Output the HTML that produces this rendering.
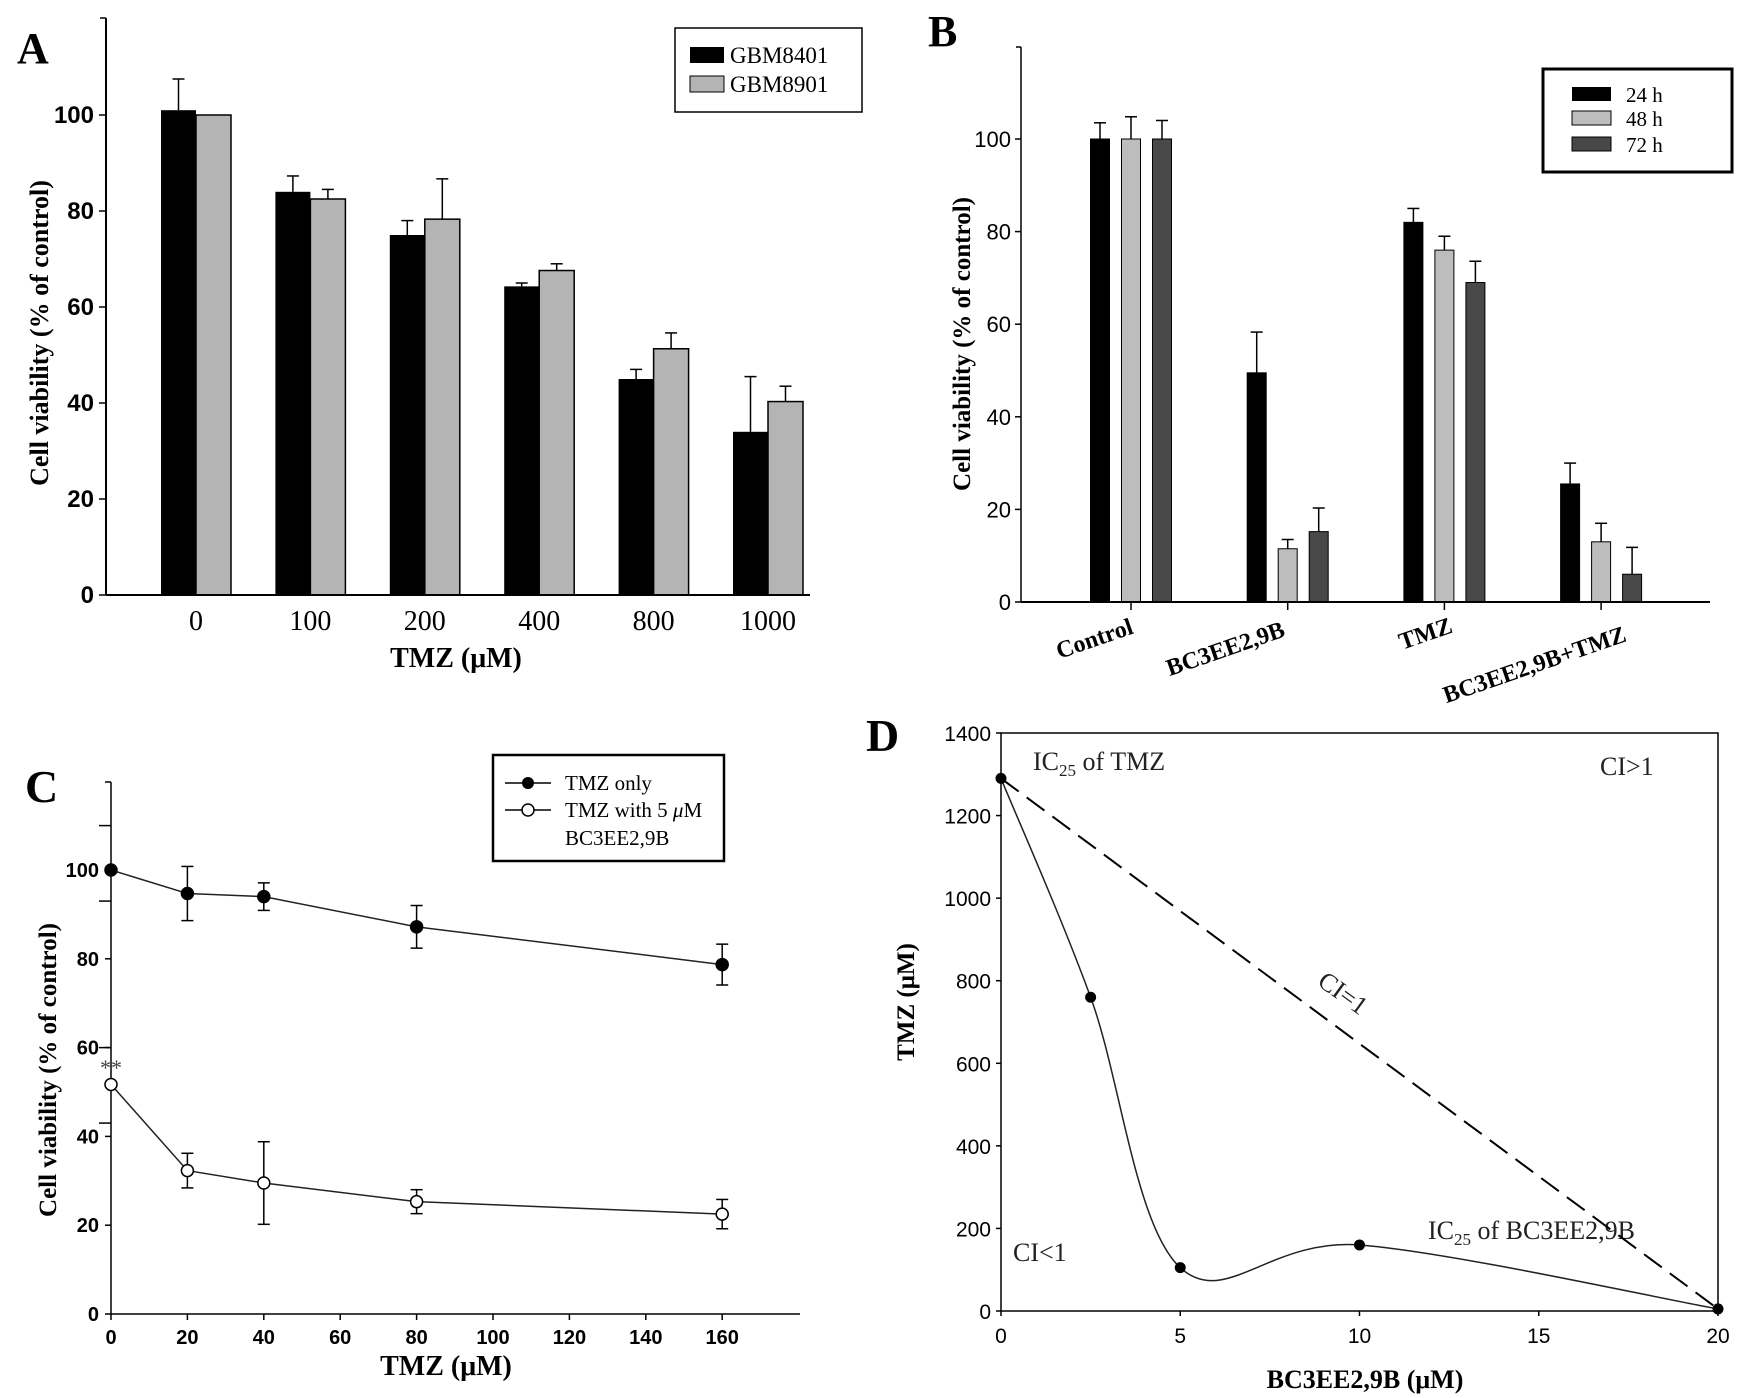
<!DOCTYPE html>
<html><head><meta charset="utf-8"><style>
html,body{margin:0;padding:0;background:#fff;}
svg{display:block;}
.serif{font-family:"Liberation Serif",serif;}
.sans{font-family:"Liberation Sans Narrow","Liberation Sans",sans-serif;}
</style></head><body>
<svg id="fig" width="1741" height="1398" viewBox="0 0 1741 1398" xmlns="http://www.w3.org/2000/svg">
<rect width="1741" height="1398" fill="#fff"/>
<text class="serif" x="17" y="63" font-size="44" font-weight="bold">A</text>
<text class="serif" x="928" y="46" font-size="44" font-weight="bold">B</text>
<text class="serif" x="25" y="802" font-size="46" font-weight="bold">C</text>
<text class="serif" x="866" y="751" font-size="46" font-weight="bold">D</text>

<text class="serif" font-size="26" font-weight="bold" text-anchor="middle" transform="translate(48,333) rotate(-90)">Cell viability (% of control)</text>
<text class="serif" font-size="28" font-weight="bold" text-anchor="middle" x="456" y="667">TMZ (μM)</text>
<text class="serif" font-size="25" font-weight="bold" text-anchor="middle" transform="translate(970,344) rotate(-90)">Cell viability (% of control)</text>
<text class="serif" font-size="25" font-weight="bold" text-anchor="middle" transform="translate(56,1070) rotate(-90)">Cell viability (% of control)</text>
<text class="serif" font-size="28" font-weight="bold" text-anchor="middle" x="446" y="1375">TMZ (μM)</text>
<text class="serif" font-size="25" font-weight="bold" text-anchor="middle" transform="translate(914,1002) rotate(-90)">TMZ (μM)</text>
<text class="serif" font-size="26" font-weight="bold" text-anchor="middle" x="1365" y="1388">BC3EE2,9B (μM)</text>

<g>
<rect x="675" y="28" width="187" height="84" fill="#fff" stroke="#000" stroke-width="1.5"/>
<rect x="690" y="47" width="34" height="16" fill="#000"/>
<text class="serif" x="730" y="63" font-size="23">GBM8401</text>
<rect x="690" y="76" width="34" height="16" fill="#b4b4b4" stroke="#000"/>
<text class="serif" x="730" y="92" font-size="23">GBM8901</text>
</g>
<g>
<rect x="1543" y="69" width="189" height="103" fill="#fff" stroke="#000" stroke-width="3"/>
<rect x="1572" y="87" width="39" height="14" fill="#000"/>
<text class="serif" x="1626" y="102" font-size="21">24 h</text>
<rect x="1572" y="111" width="39" height="14" fill="#bdbdbd" stroke="#000"/>
<text class="serif" x="1626" y="126" font-size="21">48 h</text>
<rect x="1572" y="137" width="39" height="14" fill="#484848" stroke="#000"/>
<text class="serif" x="1626" y="152" font-size="21">72 h</text>
</g>
<g>
<rect x="493" y="755" width="231" height="106" fill="#fff" stroke="#000" stroke-width="2.5"/>
<line x1="505" y1="783" x2="551" y2="783" stroke="#000" stroke-width="1.5"/>
<circle cx="528" cy="783" r="6" fill="#000"/>
<text class="serif" x="565" y="790" font-size="21">TMZ only</text>
<line x1="505" y1="810" x2="551" y2="810" stroke="#000" stroke-width="1.5"/>
<circle cx="528" cy="810" r="6" fill="#fff" stroke="#000" stroke-width="1.5"/>
<text class="serif" x="565" y="817" font-size="21">TMZ with 5 <tspan font-style="italic">μ</tspan>M</text>
<text class="serif" x="565" y="845" font-size="21">BC3EE2,9B</text>
</g>
<text class="serif" x="111" y="1075" font-size="22" text-anchor="middle" fill="#444">**</text>
<text class="serif" x="1033" y="770" font-size="26" fill="#222">IC<tspan font-size="17" dy="6">25</tspan><tspan dy="-6"> of TMZ</tspan></text>
<text class="serif" x="1600" y="775" font-size="26" fill="#222">CI&gt;1</text>
<text class="serif" font-size="26" fill="#222" text-anchor="middle" transform="translate(1338,1000) rotate(36)">CI=1</text>
<text class="serif" x="1013" y="1261" font-size="26" fill="#222">CI&lt;1</text>
<text class="serif" x="1428" y="1239" font-size="26" fill="#222">IC<tspan font-size="17" dy="6">25</tspan><tspan dy="-6"> of BC3EE2,9B</tspan></text>
<g id="dyn"></g>
</svg>
<script>
const aCategories = ["0","100","200","400","800","1000"];
const aGbm8401 = [101, 84, 75, 64.3, 45, 34];
const aGbm8401Err = [6.5, 3.3, 3, 0.7, 2, 11.5];
const aGbm8901 = [100, 82.5, 78.3, 67.6, 51.3, 40.3];
const aGbm8901Err = [0, 2, 8.4, 1.4, 3.3, 3.2];
const aYTicks = [0, 20, 40, 60, 80, 100];
const bCategories = ["Control","BC3EE2,9B","TMZ","BC3EE2,9B+TMZ"];
const b24h = [100, 49.5, 82, 25.5];
const b24hErr = [3.5, 8.8, 3, 4.5];
const b48h = [100, 11.5, 76, 13];
const b48hErr = [4.8, 2, 3, 4];
const b72h = [100, 15.2, 69, 6];
const b72hErr = [4, 5.1, 4.6, 5.8];
const bYTicks = [0, 20, 40, 60, 80, 100];
const cDoses = [0, 20, 40, 80, 160];
const cTmzOnly = [100, 94.7, 94, 87.2, 78.7];
const cTmzOnlyErr = [0, 6.1, 3.1, 4.8, 4.6];
const cTmzBc = [51.7, 32.3, 29.5, 25.3, 22.5];
const cTmzBcErr = [0, 3.9, 9.3, 2.7, 3.3];
const cXTicks = [0, 20, 40, 60, 80, 100, 120, 140, 160];
const cYTicks = [0, 20, 40, 60, 80, 100];
const cExtraTicks = [43, 60, 93, 110];
const dBc = [0, 2.5, 5, 10, 20];
const dTmz = [1290, 760, 105, 160, 5];
const dXTicks = [0, 5, 10, 15, 20];
const dYTicks = [0, 200, 400, 600, 800, 1000, 1200, 1400];

const NS = "http://www.w3.org/2000/svg";
const root = document.getElementById('dyn');
function mk(tag, attrs, parent, txt) {
  const e = document.createElementNS(NS, tag);
  for (const k in attrs) e.setAttribute(k, attrs[k]);
  if (txt !== undefined) e.textContent = txt;
  (parent || root).appendChild(e);
  return e;
}
function grp(name) {
  const g = mk('g', {});
  
  
  return g;
}
function errBar(g, x, yTop, yBase, cap) {
  const l = mk('line', {x1:x, y1:yBase, x2:x, y2:yTop, stroke:'#000', 'stroke-width':1.5}, g);
  
  
  mk('line', {x1:x-cap, y1:yTop, x2:x+cap, y2:yTop, stroke:'#000', 'stroke-width':1.5}, g);
}

(function(){
  const x0 = 106, yBase = 595, pxPer = 4.8;
  const ay = v => yBase - v * pxPer;
  const ax = i => 196 + i * 114.4;
  const g = grp('panel-a-chart');
  const axg = grp('a-axes');
  mk('line', {x1:x0, y1:18, x2:x0, y2:yBase, stroke:'#000', 'stroke-width':2}, axg);
  mk('line', {x1:x0, y1:yBase, x2:810, y2:yBase, stroke:'#000', 'stroke-width':2}, axg);
  mk('line', {x1:x0-6, y1:18, x2:x0, y2:18, stroke:'#000', 'stroke-width':1.5}, axg);
  aYTicks.forEach(v => {
    mk('line', {x1:x0-7, y1:ay(v), x2:x0, y2:ay(v), stroke:'#000', 'stroke-width':1.5}, axg);
    const t = mk('text', {x:x0-12, y:ay(v)+8, 'font-size':24, 'text-anchor':'end', class:'sans', 'font-weight':'bold'}, axg, v);
    
    
  });
  aCategories.forEach((c, i) => {
    const t = mk('text', {x:ax(i), y:630, 'font-size':28, 'text-anchor':'middle', class:'serif'}, axg, c);
    
    
    const b1 = mk('rect', {x:ax(i)-35, y:ay(aGbm8401[i]), width:35, height:aGbm8401[i]*pxPer, fill:'#000'}, g);
    
    
    const b2 = mk('rect', {x:ax(i), y:ay(aGbm8901[i]), width:35, height:aGbm8901[i]*pxPer, fill:'#b4b4b4', stroke:'#000', 'stroke-width':1.5}, g);
    
    
    if (aGbm8401Err[i] > 0) errBar(g, ax(i)-17.5, ay(aGbm8401[i]+aGbm8401Err[i]), ay(aGbm8401[i]), 6);
    if (aGbm8901Err[i] > 0) errBar(g, ax(i)+17.5, ay(aGbm8901[i]+aGbm8901Err[i]), ay(aGbm8901[i]), 6);
  });
})();

(function(){
  const x0 = 1021, yBase = 602, pxPer = 4.63;
  const by = v => yBase - v * pxPer;
  const bx = i => 1131 + i * 156.7;
  const g = grp('panel-b-chart');
  const axg = grp('b-axes');
  mk('line', {x1:x0, y1:47, x2:x0, y2:yBase, stroke:'#000', 'stroke-width':1.5}, axg);
  mk('line', {x1:x0, y1:yBase, x2:1710, y2:yBase, stroke:'#000', 'stroke-width':2}, axg);
  mk('line', {x1:x0-5, y1:47, x2:x0, y2:47, stroke:'#000', 'stroke-width':1.5}, axg);
  bYTicks.forEach(v => {
    mk('line', {x1:x0-6, y1:by(v), x2:x0, y2:by(v), stroke:'#000', 'stroke-width':1.5}, axg);
    const t = mk('text', {x:x0-10, y:by(v)+8, 'font-size':22, 'text-anchor':'end', class:'sans'}, axg, v);
    
    
  });
  const labPos = [[1097,646],[1228,656],[1428,641],[1537,672]];
  const series = [[b24h,b24hErr,'#000',-31,'b-bar-24h'],[b48h,b48hErr,'#bdbdbd',0,'b-bar-48h'],[b72h,b72hErr,'#484848',31,'b-bar-72h']];
  bCategories.forEach((c, i) => {
    mk('line', {x1:bx(i), y1:yBase, x2:bx(i), y2:yBase+8, stroke:'#000', 'stroke-width':1.5}, axg);
    const t = mk('text', {'font-size':24, 'text-anchor':'middle', class:'serif', 'font-weight':'bold', transform:'translate('+labPos[i][0]+','+labPos[i][1]+') rotate(-19)'}, axg, c);
    
    
    series.forEach(s => {
      const v = s[0][i], cx = bx(i) + s[3];
      const r = mk('rect', {x:cx-9.5, y:by(v), width:19, height:v*pxPer, fill:s[2], stroke:'#000', 'stroke-width':1}, g);
      
      
      errBar(g, cx, by(v + s[1][i]), by(v), 6);
    });
  });
})();

(function(){
  const x0 = 111, yBase = 1314;
  const cy = v => yBase - v * 4.44;
  const cx = v => x0 + v * 3.82;
  const axg = grp('c-axes');
  mk('line', {x1:x0, y1:782, x2:x0, y2:yBase, stroke:'#000', 'stroke-width':1.5}, axg);
  mk('line', {x1:x0, y1:yBase, x2:800, y2:yBase, stroke:'#000', 'stroke-width':1.5}, axg);
  mk('line', {x1:x0-6, y1:782, x2:x0, y2:782, stroke:'#000', 'stroke-width':1.5}, axg);
  cYTicks.forEach(v => {
    mk('line', {x1:x0-6, y1:cy(v), x2:x0, y2:cy(v), stroke:'#000', 'stroke-width':1.5}, axg);
    const t = mk('text', {x:x0-12, y:cy(v)+7, 'font-size':20, 'text-anchor':'end', class:'sans', 'font-weight':'bold'}, axg, v);
    
    
  });
  cExtraTicks.forEach(v => {
    mk('line', {x1:x0-12, y1:cy(v), x2:x0, y2:cy(v), stroke:'#000', 'stroke-width':1.5}, axg);
  });
  cXTicks.forEach(v => {
    mk('line', {x1:cx(v), y1:yBase, x2:cx(v), y2:yBase+6, stroke:'#000', 'stroke-width':1.5}, axg);
    const t = mk('text', {x:cx(v), y:yBase+30, 'font-size':20, 'text-anchor':'middle', class:'sans', 'font-weight':'bold'}, axg, v);
    
    
  });
  [[cTmzOnly,cTmzOnlyErr,'#000','c-series-tmz-only'],[cTmzBc,cTmzBcErr,'#fff','c-series-tmz-bc']].forEach(s => {
    const g = grp(s[3]);
    const pts = cDoses.map((d,i) => cx(d)+','+cy(s[0][i])).join(' ');
    const pl = mk('polyline', {points:pts, fill:'none', stroke:'#222', 'stroke-width':1.5}, g);
    
    
    cDoses.forEach((d,i) => {
      const v = s[0][i], e = s[1][i];
      if (e > 0) {
        mk('line', {x1:cx(d), y1:cy(v+e), x2:cx(d), y2:cy(v-e), stroke:'#000', 'stroke-width':1.5}, g);
        mk('line', {x1:cx(d)-6, y1:cy(v+e), x2:cx(d)+6, y2:cy(v+e), stroke:'#000', 'stroke-width':1.5}, g);
        mk('line', {x1:cx(d)-6, y1:cy(v-e), x2:cx(d)+6, y2:cy(v-e), stroke:'#000', 'stroke-width':1.5}, g);
      }
      const c = mk('circle', {cx:cx(d), cy:cy(v), r:6, fill:s[2], stroke:'#000', 'stroke-width':1.5}, g);
      
      
    });
  });
})();

(function(){
  const x0 = 1001, x1 = 1718, yTop = 733, yBase = 1311;
  const dx = v => x0 + v * (x1 - x0) / 20;
  const dy = v => yBase - v * (yBase - yTop) / 1400;
  const axg = grp('d-axes');
  mk('rect', {x:x0, y:yTop, width:x1-x0, height:yBase-yTop, fill:'none', stroke:'#000', 'stroke-width':1.5}, axg);
  dYTicks.forEach(v => {
    mk('line', {x1:x0-5, y1:dy(v), x2:x0, y2:dy(v), stroke:'#000', 'stroke-width':1.5}, axg);
    const t = mk('text', {x:x0-10, y:dy(v)+8, 'font-size':21, 'text-anchor':'end', class:'sans'}, axg, v);
    
    
  });
  dXTicks.forEach(v => {
    mk('line', {x1:dx(v), y1:yBase, x2:dx(v), y2:yBase+5, stroke:'#000', 'stroke-width':1.5}, axg);
    const t = mk('text', {x:dx(v), y:yBase+32, 'font-size':21, 'text-anchor':'middle', class:'sans'}, axg, v);
    
    
  });
  const n = dBc.length;
  const dl = mk('line', {x1:dx(dBc[0]), y1:dy(dTmz[0]), x2:dx(dBc[n-1]), y2:dy(dTmz[n-1]), stroke:'#000', 'stroke-width':2, 'stroke-dasharray':'22,10'});
  
  
  const P = dBc.map((b,i) => [dx(b), dy(dTmz[i])]);
  let d = 'M' + P[0][0] + ',' + P[0][1];
  for (let i = 0; i < n-1; i++) {
    const p0 = P[Math.max(0,i-1)], p1 = P[i], p2 = P[i+1], p3 = P[Math.min(n-1,i+2)];
    const c1 = [p1[0] + (p2[0]-p0[0])/6, p1[1] + (p2[1]-p0[1])/6];
    const c2 = [p2[0] - (p3[0]-p1[0])/6, p2[1] - (p3[1]-p1[1])/6];
    d += ' C' + c1[0] + ',' + c1[1] + ' ' + c2[0] + ',' + c2[1] + ' ' + p2[0] + ',' + p2[1];
  }
  const cv = mk('path', {d:d, fill:'none', stroke:'#222', 'stroke-width':1.5});
  
  
  P.forEach(p => {
    const c = mk('circle', {cx:p[0], cy:p[1], r:5.5, fill:'#000'});
    
    
  });
})();
</script>
</body></html>
